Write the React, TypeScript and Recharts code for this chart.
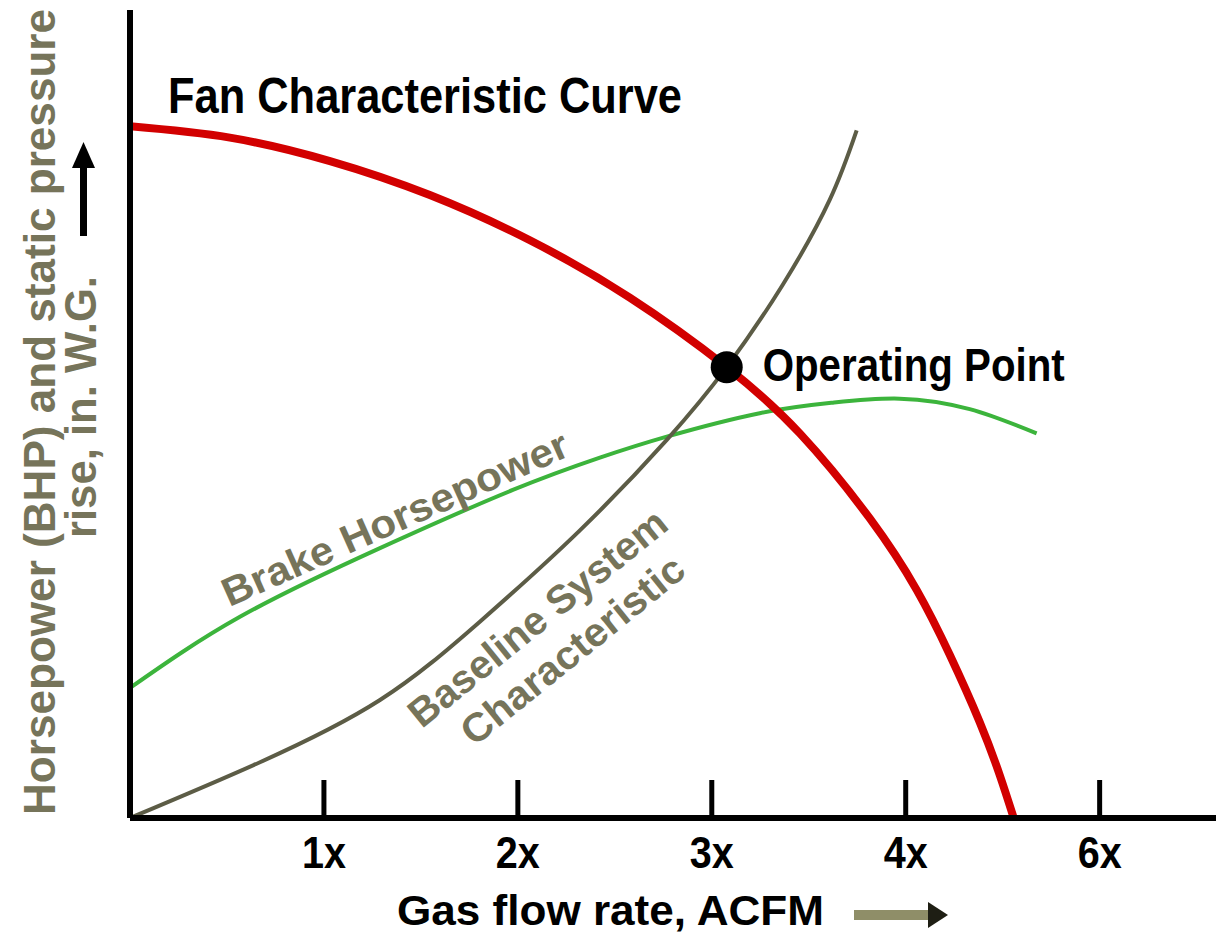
import React from 'react';
import { ComposedChart, Line, XAxis, YAxis, ReferenceDot } from 'recharts';

// ---- data (x in multiples of base flow, y in % of plot height) ----
const fanCurve = [
  { x: 0, y: 85.6 },
  { x: 0.515, y: 84.2 },
  { x: 1.031, y: 81.3 },
  { x: 1.546, y: 77.1 },
  { x: 2.062, y: 71.5 },
  { x: 2.577, y: 64.4 },
  { x: 3.077, y: 55.8 },
  { x: 3.454, y: 47.6 },
  { x: 3.814, y: 37.1 },
  { x: 4.057, y: 28.2 },
  { x: 4.227, y: 20.2 },
  { x: 4.381, y: 11.9 },
  { x: 4.485, y: 5.3 },
  { x: 4.557, y: 0 },
];

const brakeHorsepower = [
  { x: 0, y: 16.1 },
  { x: 0.567, y: 24.9 },
  { x: 1.289, y: 33.4 },
  { x: 1.974, y: 40.6 },
  { x: 2.423, y: 44.6 },
  { x: 2.768, y: 47.2 },
  { x: 3.247, y: 50.1 },
  { x: 3.624, y: 51.4 },
  { x: 3.969, y: 51.9 },
  { x: 4.33, y: 50.6 },
  { x: 4.675, y: 47.6 },
];

const baselineSystem = [
  { x: 0, y: 0 },
  { x: 0.67, y: 6.9 },
  { x: 1.289, y: 14.6 },
  { x: 1.804, y: 24.3 },
  { x: 2.32, y: 35.6 },
  { x: 2.768, y: 46.8 },
  { x: 3.077, y: 55.8 },
  { x: 3.366, y: 66.0 },
  { x: 3.608, y: 76.5 },
  { x: 3.747, y: 85.1 },
];

const operatingPoint = { x: 3.077, y: 55.8 };
const xTicks = [1, 2, 3, 4, 5];
const xTickLabels = ['1x', '2x', '3x', '4x', '6x'];

const fanLabelAnchor = { x: 0.196, y: 87.3 };
const brakeLabelAnchor = { x: 1.366, y: 37.1 };
const baselineLabelAnchor = { x: 2.191, y: 22.8 };

const FONT = '"Liberation Sans", Arial, sans-serif';
const OLIVE = '#76745a';
const RED = '#d20000';
const GREEN = '#3cb43c';
const GREY = '#5c5c46';

const XTick = (props: any) => {
  const { x, y, payload } = props;
  const i = xTicks.indexOf(payload.value);
  const label = i >= 0 ? xTickLabels[i] : '';
  return (
    <g>
      <line x1={x} x2={x} y1={y} y2={y - 38} stroke="#000" strokeWidth={5} />
      <text
        x={x}
        y={y + 50}
        textAnchor="middle"
        fontFamily={FONT}
        fontWeight="bold"
        fontSize={45}
        fill="#000"
        textLength={44}
        lengthAdjust="spacingAndGlyphs"
      >
        {label}
      </text>
    </g>
  );
};

const XLabel = (props: any) => {
  const vb = props.viewBox || { x: 130, y: 818 };
  const x0 = vb.x;
  const y0 = vb.y;
  return (
    <g>
      <text
        x={x0 + 267}
        y={y0 + 107}
        fontFamily={FONT}
        fontWeight="bold"
        fontSize={43}
        fill="#000"
        textLength={427}
        lengthAdjust="spacingAndGlyphs"
      >
        Gas flow rate, ACFM
      </text>
      <rect x={x0 + 724} y={y0 + 92} width={78} height={10} fill="#8f8e68" />
      <polygon
        points={`${x0 + 798},${y0 + 84} ${x0 + 818},${y0 + 97} ${x0 + 798},${y0 + 110}`}
        fill="#1e1e14"
      />
    </g>
  );
};

const YLabel = (props: any) => {
  const vb = props.viewBox || { x: 0, y: 10, height: 808 };
  const y0 = vb.y;
  const cy1 = y0 + 402;
  const cy2 = y0 + 397;
  return (
    <g>
      <text
        transform={`translate(55, ${cy1}) rotate(-90)`}
        textAnchor="middle"
        fontFamily={FONT}
        fontWeight="bold"
        fontSize={44}
        fill={OLIVE}
        textLength={806}
        lengthAdjust="spacingAndGlyphs"
      >
        Horsepower (BHP) and static pressure
      </text>
      <text
        transform={`translate(96, ${cy2}) rotate(-90)`}
        textAnchor="middle"
        fontFamily={FONT}
        fontWeight="bold"
        fontSize={44}
        fill={OLIVE}
        textLength={262}
        lengthAdjust="spacingAndGlyphs"
      >
        rise, in. W.G.
      </text>
      <rect x={80} y={y0 + 150} width={7} height={76} fill="#000" />
      <polygon points={`${72},${y0 + 158} ${83.5},${y0 + 132} ${95},${y0 + 158}`} fill="#000" />
    </g>
  );
};

const FanLabel = (p: any) => (
  <text
    x={p.cx}
    y={p.cy}
    fontFamily={FONT}
    fontWeight="bold"
    fontSize={50}
    fill="#000"
    textLength={514}
    lengthAdjust="spacingAndGlyphs"
  >
    Fan Characteristic Curve
  </text>
);

const OperatingDot = (p: any) => (
  <g>
    <circle cx={p.cx} cy={p.cy} r={16} fill="#000" />
    <text
      x={p.cx + 36}
      y={p.cy + 14}
      fontFamily={FONT}
      fontWeight="bold"
      fontSize={47}
      fill="#000"
      textLength={302}
      lengthAdjust="spacingAndGlyphs"
    >
      Operating Point
    </text>
  </g>
);

const BrakeLabel = (p: any) => (
  <text
    transform={`translate(${p.cx}, ${p.cy}) rotate(-24)`}
    textAnchor="middle"
    dominantBaseline="central"
    fontFamily={FONT}
    fontWeight="bold"
    fontSize={40}
    fill={OLIVE}
    textLength={375}
    lengthAdjust="spacingAndGlyphs"
  >
    Brake Horsepower
  </text>
);

const BaselineLabel = (p: any) => (
  <g transform={`translate(${p.cx}, ${p.cy}) rotate(-39)`}>
    <text
      x={-3.5}
      y={-23.5}
      textAnchor="middle"
      dominantBaseline="central"
      fontFamily={FONT}
      fontWeight="bold"
      fontSize={40}
      fill={OLIVE}
      textLength={320}
      lengthAdjust="spacingAndGlyphs"
    >
      Baseline System
    </text>
    <text
      x={3.5}
      y={23.5}
      textAnchor="middle"
      dominantBaseline="central"
      fontFamily={FONT}
      fontWeight="bold"
      fontSize={40}
      fill={OLIVE}
      textLength={275}
      lengthAdjust="spacingAndGlyphs"
    >
      Characteristic
    </text>
  </g>
);

export default function App() {
  return (
    <div style={{ position: 'absolute', left: 0, top: 0, width: 1218, height: 934, background: '#fff' }}>
      <ComposedChart width={1218} height={934} margin={{ top: 10, right: 2, left: 0, bottom: 0 }}>
        <XAxis
          type="number"
          dataKey="x"
          domain={[0, 5.6]}
          ticks={xTicks}
          tick={<XTick />}
          tickLine={false}
          tickSize={0}
          tickMargin={0}
          interval={0}
          axisLine={{ stroke: '#000', strokeWidth: 6 }}
          height={116}
          allowDataOverflow
          label={<XLabel />}
        />
        <YAxis
          type="number"
          dataKey="y"
          domain={[0, 100]}
          ticks={[]}
          tick={false}
          tickLine={false}
          axisLine={{ stroke: '#000', strokeWidth: 6 }}
          width={130}
          allowDataOverflow
          label={<YLabel />}
        />
        <Line
          data={brakeHorsepower}
          dataKey="y"
          type="natural"
          stroke={GREEN}
          strokeWidth={4}
          dot={false}
          activeDot={false}
          isAnimationActive={false}
        />
        <Line
          data={baselineSystem}
          dataKey="y"
          type="natural"
          stroke={GREY}
          strokeWidth={4}
          dot={false}
          activeDot={false}
          isAnimationActive={false}
        />
        <Line
          data={fanCurve}
          dataKey="y"
          type="natural"
          stroke={RED}
          strokeWidth={8}
          dot={false}
          activeDot={false}
          isAnimationActive={false}
        />
        <ReferenceDot x={operatingPoint.x} y={operatingPoint.y} r={16} shape={OperatingDot} ifOverflow="visible" />
        <ReferenceDot x={fanLabelAnchor.x} y={fanLabelAnchor.y} r={1} shape={FanLabel} ifOverflow="visible" />
        <ReferenceDot x={brakeLabelAnchor.x} y={brakeLabelAnchor.y} r={1} shape={BrakeLabel} ifOverflow="visible" />
        <ReferenceDot x={baselineLabelAnchor.x} y={baselineLabelAnchor.y} r={1} shape={BaselineLabel} ifOverflow="visible" />
      </ComposedChart>
    </div>
  );
}
